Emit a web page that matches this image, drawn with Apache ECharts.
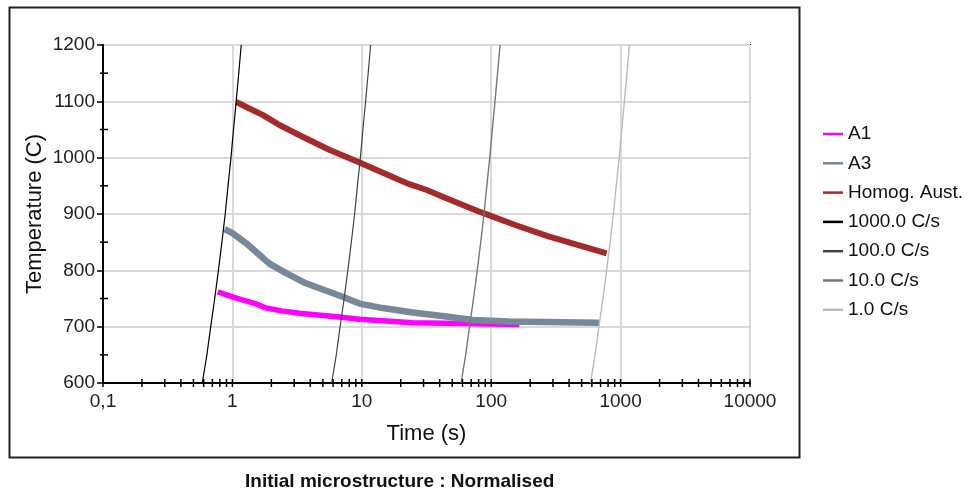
<!DOCTYPE html>
<html>
<head>
<meta charset="utf-8">
<script src="https://cdn.jsdelivr.net/npm/echarts@6/dist/echarts.min.js"></script>
<style>
html,body{margin:0;padding:0;background:#fff;}
#chart{width:971px;height:495px;}
</style>
</head>
<body>
<div id="chart"></div>
<script>
// ---- data (time in s, temperature in C) ----
const seriesNames = ['A1', 'A3', 'Homog. Aust.', '1000.0 C/s', '100.0 C/s', '10.0 C/s', '1.0 C/s'];
const xTickLabels = ['0,1', '1', '10', '100', '1000', '10000'];
const xTickValues = [0.1,0.2,0.3,0.4,0.5,0.6,0.7,0.8,0.9,1,2,3,4,5,6,7,8,9,10,20,30,40,50,60,70,80,90,100,200,300,400,500,600,700,800,900,1000,2000,3000,4000,5000,6000,7000,8000,9000,10000];
const yMinorTickValues = [650, 750, 850, 950, 1050, 1150];

const a1 = [[0.77,762],[1.0,753],[1.5,741],[1.82,733],[2.4,728],[3.3,724],[6.7,717],[9.6,713],[24.6,707],[80,705],[165,704]];
const a3 = [[0.87,873],[1.0,866],[1.28,848],[1.93,812],[2.6,795],[3.7,777],[7.1,753],[9.6,741],[14.5,733],[24.7,725],[45,718],[72,712],[138,709],[680,707]];
const homog = [[1.07,1099],[1.28,1090],[1.71,1076],[2.31,1058],[3.1,1043],[5.6,1014],[9.9,990],[18.4,963],[23.3,953],[31.4,943],[45,928],[81,904],[86,902],[155,880],[281,860],[780,830]];
const c1000 = [[0.585,600],[0.635,650],[0.68,700],[0.73,750],[0.78,800],[0.83,850],[0.88,900],[0.925,950],[0.975,1000],[1.02,1050],[1.07,1100],[1.12,1150],[1.17,1200]];
const c100 = [[5.85,600],[6.35,650],[6.8,700],[7.3,750],[7.8,800],[8.3,850],[8.8,900],[9.25,950],[9.75,1000],[10.2,1050],[10.7,1100],[11.2,1150],[11.7,1200]];
const c10 = [[58.5,600],[63.5,650],[68,700],[73,750],[78,800],[83,850],[88,900],[92.5,950],[97.5,1000],[102,1050],[107,1100],[112,1150],[117,1200]];
const c1 = [[585,600],[635,650],[680,700],[730,750],[780,800],[830,850],[880,900],[925,950],[975,1000],[1020,1050],[1070,1100],[1120,1150],[1170,1200]];

const FONT = "'Liberation Sans', Arial, sans-serif";
const chart = echarts.init(document.getElementById('chart'), null, {renderer: 'canvas'});

const lineSeries = (name, data, color, width, z) => ({
  name, type: 'line', data, showSymbol: false, symbol: 'none', z,
  lineStyle: {color, width}, itemStyle: {color}, animation: false
});

const option = {
  animation: false,
  backgroundColor: '#fff',
  title: {
    text: 'Initial microstructure : Normalised',
    left: 240, top: 467,
    textStyle: {fontFamily: FONT, fontSize: 19, fontWeight: 'bold', color: '#111'}
  },
  graphic: [{
    type: 'rect', left: 7, top: 5, shape: {width: 790, height: 450},
    style: {fill: 'none', stroke: '#222', lineWidth: 2}, z: 100
  }],
  grid: {left: 103, right: 221, top: 45, bottom: 112, show: true, borderColor: '#000', borderWidth: 2, backgroundColor: 'transparent'},
  legend: {
    orient: 'vertical', left: 818, top: 119,
    icon: 'rect',
    itemWidth: 20, itemHeight: 2.5, itemGap: 9.3,
    textStyle: {fontFamily: FONT, fontSize: 19, color: '#111', lineHeight: 20},
    data: seriesNames
  },
  xAxis: {
    type: 'log', logBase: 10, min: 0.1, max: 10000,
    name: 'Time (s)', nameLocation: 'middle', nameGap: 40,
    nameTextStyle: {fontFamily: FONT, fontSize: 22, color: '#111'},
    axisLine: {show: true, lineStyle: {color: '#000', width: 2}},
    axisTick: {show: false},
    axisLabel: {
      fontFamily: FONT, fontSize: 19, color: '#222', margin: 9,
      formatter: v => xTickLabels[Math.round(Math.log10(v)) + 1]
    },
    splitLine: {show: true, lineStyle: {color: '#dadada', width: 2}},
    minorTick: {show: false}
  },
  yAxis: {
    type: 'value', min: 600, max: 1200, interval: 100,
    name: 'Temperature (C)', nameLocation: 'middle', nameGap: 57, nameMoveOverlap: false,
    nameTextStyle: {fontFamily: FONT, fontSize: 22, color: '#111'},
    axisLine: {show: true, lineStyle: {color: '#000', width: 2}},
    axisTick: {show: true, length: 6, lineStyle: {color: '#000', width: 1.5}},
    axisLabel: {fontFamily: FONT, fontSize: 19, color: '#222', margin: 8, formatter: v => String(v)},
    splitLine: {show: true, lineStyle: {color: '#dadada', width: 2}}
  },
  series: [
    lineSeries(seriesNames[0], a1, '#ff00ff', 5.5, 3),
    lineSeries(seriesNames[1], a3, '#778899', 6.5, 4),
    lineSeries(seriesNames[2], homog, '#a52a2a', 6, 5),
    lineSeries(seriesNames[3], c1000, '#000000', 1.2, 9),
    lineSeries(seriesNames[4], c100, '#444444', 1.2, 8),
    lineSeries(seriesNames[5], c10, '#777777', 1.4, 7),
    lineSeries(seriesNames[6], c1, '#bbbbbb', 1.4, 6),
    {
      type: 'custom', clip: false, z: 20, silent: true,
      data: xTickValues.map(v => [v, 600]),
      renderItem: (params, api) => {
        const p = api.coord([api.value(0), api.value(1)]);
        return {type: 'line', shape: {x1: p[0], y1: p[1] - 4, x2: p[0], y2: p[1] + 4},
                style: {stroke: '#000', lineWidth: 1.5}};
      }
    },
    {
      type: 'custom', clip: false, z: 20, silent: true,
      data: yMinorTickValues.map(v => [0.1, v]),
      renderItem: (params, api) => {
        const p = api.coord([api.value(0), api.value(1)]);
        return {type: 'line', shape: {x1: p[0] - 3, y1: p[1], x2: p[0] + 5, y2: p[1]},
                style: {stroke: '#000', lineWidth: 1.5}};
      }
    }
  ]
};
chart.setOption(option);
</script>
</body>
</html>
